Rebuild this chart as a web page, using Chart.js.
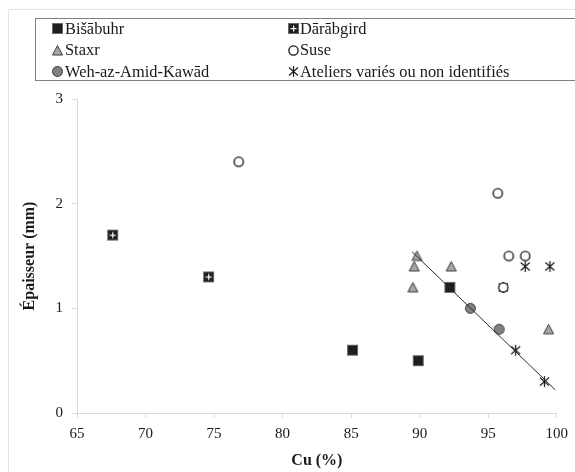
<!DOCTYPE html>
<html>
<head>
<meta charset="utf-8">
<script src="https://cdn.jsdelivr.net/npm/chart.js@4.4.1/dist/chart.umd.min.js"></script>
<style>
  html, body { margin:0; padding:0; background:#fff; }
  body { width:575px; height:472px; overflow:hidden; position:relative; font-family:"Liberation Serif","Times New Roman",serif; }
  #frame { position:absolute; left:8px; top:9px; width:700px; height:700px; border:1px solid #e3e3e3; box-sizing:border-box; }
  #wrap { position:absolute; left:0; top:0; width:575px; height:472px; }
  #legend { position:absolute; left:35px; top:18px; width:700px; height:63px; border:1px solid #808080; box-sizing:border-box; }
  .lg-text { position:absolute; font-size:16.4px; line-height:16px; color:#1a1a1a; white-space:nowrap; }
  .lg-mark { position:absolute; }
</style>
</head>
<body>
<div id="frame"></div>
<div id="wrap"><canvas id="c" width="575" height="472"></canvas></div>
<div id="legend"></div>
<script>
// ---- data ----
const seriesNames = ["Bišābuhr", "Dārābgird", "Staxr", "Suse", "Weh-az-Amid-Kawād", "Ateliers variés ou non identifiés"];
const bisabuhrCu = [85.1, 89.9, 92.2];
const bisabuhrEp = [0.6, 0.5, 1.2];
const darabgirdCu = [67.6, 74.6];
const darabgirdEp = [1.7, 1.3];
const staxrCu = [89.5, 89.6, 89.8, 92.3, 99.4];
const staxrEp = [1.2, 1.4, 1.5, 1.4, 0.8];
const suseCu = [76.8, 95.7, 96.1, 96.5, 97.7];
const suseEp = [2.4, 2.1, 1.2, 1.5, 1.5];
const wehCu = [93.7, 95.8];
const wehEp = [1.0, 0.8];
const ateliersCu = [96.1, 97.0, 97.7, 99.1, 99.5];
const ateliersEp = [1.2, 0.6, 1.4, 0.3, 1.4];
const trendCu = [89.45, 99.9];
const trendEp = [1.54, 0.22];
const xTickValues = [65, 70, 75, 80, 85, 90, 95, 100];
const yTickValues = [0, 1, 2, 3];
const xTitle = "Cu (%)";
const yTitle = "Épaisseur (mm)";

// ---- marker drawing ----
function makeMarker(kind) {
  const c = document.createElement('canvas');
  c.width = 13; c.height = 13;
  const g = c.getContext('2d');
  const m = 6.5;
  g.lineWidth = 1;
  if (kind === 'square' || kind === 'darab') {
    g.fillStyle = '#1e1e1e';
    g.fillRect(2, 2, 9, 9);
    g.strokeStyle = '#6a6a6a';
    g.strokeRect(1.5, 1.5, 10, 10);
    if (kind === 'darab') {
      g.fillStyle = '#ffffff';
      g.fillRect(6, 3.5, 1.2, 6);
      g.fillRect(3.5, 6, 6, 1.2);
    }
  } else if (kind === 'triangle') {
    g.beginPath();
    g.moveTo(m, 1.5); g.lineTo(11.5, 11); g.lineTo(1.5, 11); g.closePath();
    g.fillStyle = '#a6a6a6'; g.fill();
    g.strokeStyle = '#3c3c3c'; g.stroke();
  } else if (kind === 'circle') {
    g.beginPath(); g.arc(m, m, 4.6, 0, Math.PI * 2);
    g.fillStyle = '#ffffff'; g.fill();
    g.lineWidth = 1.3;
    g.strokeStyle = '#111111'; g.stroke();
  } else if (kind === 'grey') {
    g.beginPath(); g.arc(m, m, 5, 0, Math.PI * 2);
    g.fillStyle = '#808080'; g.fill();
    g.strokeStyle = '#3c3c3c'; g.stroke();
  } else if (kind === 'star') {
    g.strokeStyle = '#1a1a1a'; g.lineWidth = 1.2;
    g.beginPath();
    g.moveTo(2, 2.5); g.lineTo(11, 10.5);
    g.moveTo(11, 2.5); g.lineTo(2, 10.5);
    g.moveTo(m, 1); g.lineTo(m, 12);
    g.stroke();
  }
  return c;
}
const kinds = ['square', 'darab', 'triangle', 'circle', 'grey', 'star'];

function pts(xs, ys) { return xs.map((x, i) => ({ x: x, y: ys[i] })); }
const seriesData = [
  pts(bisabuhrCu, bisabuhrEp),
  pts(darabgirdCu, darabgirdEp),
  pts(staxrCu, staxrEp),
  pts(suseCu, suseEp),
  pts(wehCu, wehEp),
  pts(ateliersCu, ateliersEp)
];

const datasets = seriesNames.map((name, i) => ({
  label: name,
  data: seriesData[i],
  pointStyle: makeMarker(kinds[i]),
  pointRadius: 6,
  showLine: false,
  order: 1
}));
datasets.push({
  label: 'trend',
  data: pts(trendCu, trendEp),
  showLine: true,
  borderColor: '#2a2a2a',
  borderWidth: 1,
  pointRadius: 0,
  fill: false,
  order: 0
});

const tickFont = { family: "'Liberation Serif', 'Times New Roman', serif", size: 15 };
const titleFont = { family: "'Liberation Serif', 'Times New Roman', serif", size: 16, weight: 'bold' };
const axisGrey = '#d9d9d9';

new Chart(document.getElementById('c'), {
  type: 'scatter',
  data: { datasets: datasets },
  options: {
    responsive: false,
    animation: false,
    layout: { padding: { left: 0, right: 17.3, top: 99, bottom: 0 } },
    plugins: { legend: { display: false }, tooltip: { enabled: false } },
    scales: {
      x: {
        type: 'linear', min: 65, max: 100,
        afterBuildTicks: s => { s.ticks = xTickValues.map(v => ({ value: v })); },
        afterFit: s => { s.height = 59; },
        grid: { drawOnChartArea: false, color: axisGrey, tickLength: 5 },
        border: { color: axisGrey, width: 1 },
        ticks: { font: tickFont, color: '#1a1a1a', padding: 7, maxRotation: 0 },
        title: { display: true, text: xTitle, font: titleFont, color: '#1a1a1a', padding: { top: 0, bottom: 2 } }
      },
      y: {
        type: 'linear', min: 0, max: 3,
        afterBuildTicks: s => { s.ticks = yTickValues.map(v => ({ value: v })); },
        afterFit: s => { s.width = 77; },
        grid: { drawOnChartArea: false, color: axisGrey, tickLength: 5 },
        border: { color: axisGrey, width: 1 },
        ticks: { font: tickFont, color: '#1a1a1a', padding: 9 },
        title: { display: true, text: yTitle, font: titleFont, color: '#1a1a1a', padding: { top: 20, bottom: 0 } }
      }
    }
  }
});

// ---- HTML legend built from the series names ----
const legend = document.getElementById('legend');
const colMark = [57, 293];
const colText = [65, 300];
const rowCenter = [28.5, 50, 71.5];
seriesNames.forEach((name, i) => {
  const col = i % 2, row = Math.floor(i / 2);
  const mk = makeMarker(kinds[i]);
  mk.className = 'lg-mark';
  mk.style.left = (colMark[col] - 6.5 - 35 - 1) + 'px';
  mk.style.top = (rowCenter[row] - 6.5 - 18 - 1) + 'px';
  legend.appendChild(mk);
  const t = document.createElement('div');
  t.className = 'lg-text';
  t.textContent = name;
  t.style.left = (colText[col] - 35 - 1) + 'px';
  t.style.top = (rowCenter[row] - 8 - 18 - 1) + 'px';
  legend.appendChild(t);
});
</script>
</body>
</html>
